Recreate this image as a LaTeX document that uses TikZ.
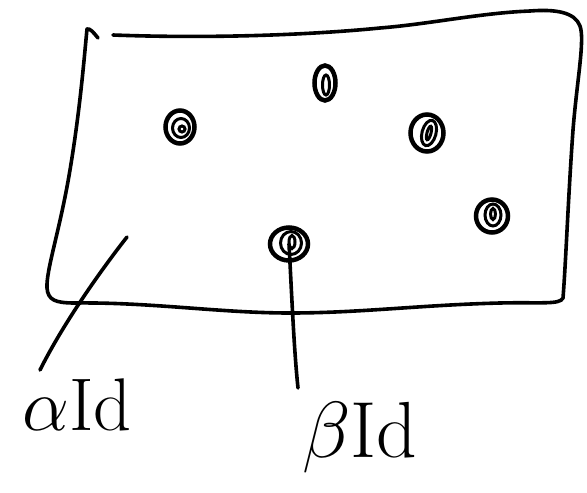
\documentclass[tikz,border=0pt]{standalone}
\usetikzlibrary{calc,shapes.geometric}
\begin{document}
\begin{tikzpicture}[x=1pt,y=-1pt,
  pen/.style={line width=3.6pt,line cap=round,line join=round,black},
  ring/.style={draw,line width=4.5pt,inner sep=0pt},
  inring/.style={draw,line width=3pt,inner sep=0pt},
  lbl/.style={inner sep=0pt,font=\Huge,anchor=base}]
\useasboundingbox (0,0) rectangle (587,493);
% frame (hand-drawn rectangle)
\draw[pen] (98,38) .. controls (94,33) and (90,28) .. (87,29)
  .. controls (84,60) and (80,110) .. (70,170)
  .. controls (60,230) and (46,270) .. (47,288)
  .. controls (48,300) and (55,303) .. (75,303)
  .. controls (150,302) and (220,313) .. (290,313)
  .. controls (360,313) and (420,305) .. (500,303)
  .. controls (540,302) and (560,305) .. (563,298)
  .. controls (566,260) and (568,200) .. (573,130)
  .. controls (577,80) and (585,40) .. (580,26)
  .. controls (575,12) and (555,9) .. (530,11)
  .. controls (480,13) and (430,24) .. (380,28)
  .. controls (320,34) and (220,39) .. (113,35);
% dots
\node[ring,ellipse,minimum width=29pt,minimum height=33pt] (d1) at (180,127) {};
\node[inring,ellipse,minimum width=17pt,minimum height=19pt] (d1i) at (181,128) {};
\node[inring,circle,minimum size=6pt] (d1c) at (182,129) {};
\node[ring,ellipse,minimum width=21pt,minimum height=35pt] (d2) at (325,83) {};
\node[inring,ellipse,minimum width=7pt,minimum height=20pt] (d2i) at (326,85) {};
\node[ring,ellipse,minimum width=33pt,minimum height=37pt] (d3) at (427,133) {};
\node[inring,ellipse,minimum width=14pt,minimum height=26pt,rotate=-15] (d3i) at (429,133) {};
\node[inring,ellipse,minimum width=4pt,minimum height=14pt,rotate=-15] (d3c) at (429,133) {};
\node[ring,ellipse,minimum width=32pt,minimum height=33pt] (d4) at (492,216) {};
\node[inring,ellipse,minimum width=16pt,minimum height=22pt] (d4i) at (493,215) {};
\node[inring,ellipse,minimum width=5pt,minimum height=11pt] (d4c) at (493,214) {};
\node[ring,ellipse,minimum width=38pt,minimum height=33pt] (d5) at (289,244) {};
\node[inring,ellipse,minimum width=21pt,minimum height=23pt] (d5i) at (291,243) {};
\node[inring,ellipse,minimum width=6pt,minimum height=13pt] (d5c) at (292,242) {};
% labels
\node[lbl] (la) at (77,430) {\scalebox{3.0}{$\alpha$Id}};
\node[lbl] (lb) at (360,457) {\scalebox{3.2}{$\beta$Id}};
% connectors
\coordinate (ca) at (127,237);
\coordinate (ea) at (40,370);
\coordinate (eb) at (298,388);
\draw[pen] (ca) .. controls (105,265) and (65,320) .. (ea);
\draw[pen] (d5.center) .. controls (292,300) and (294,350) .. (eb);
\end{tikzpicture}
\end{document}
